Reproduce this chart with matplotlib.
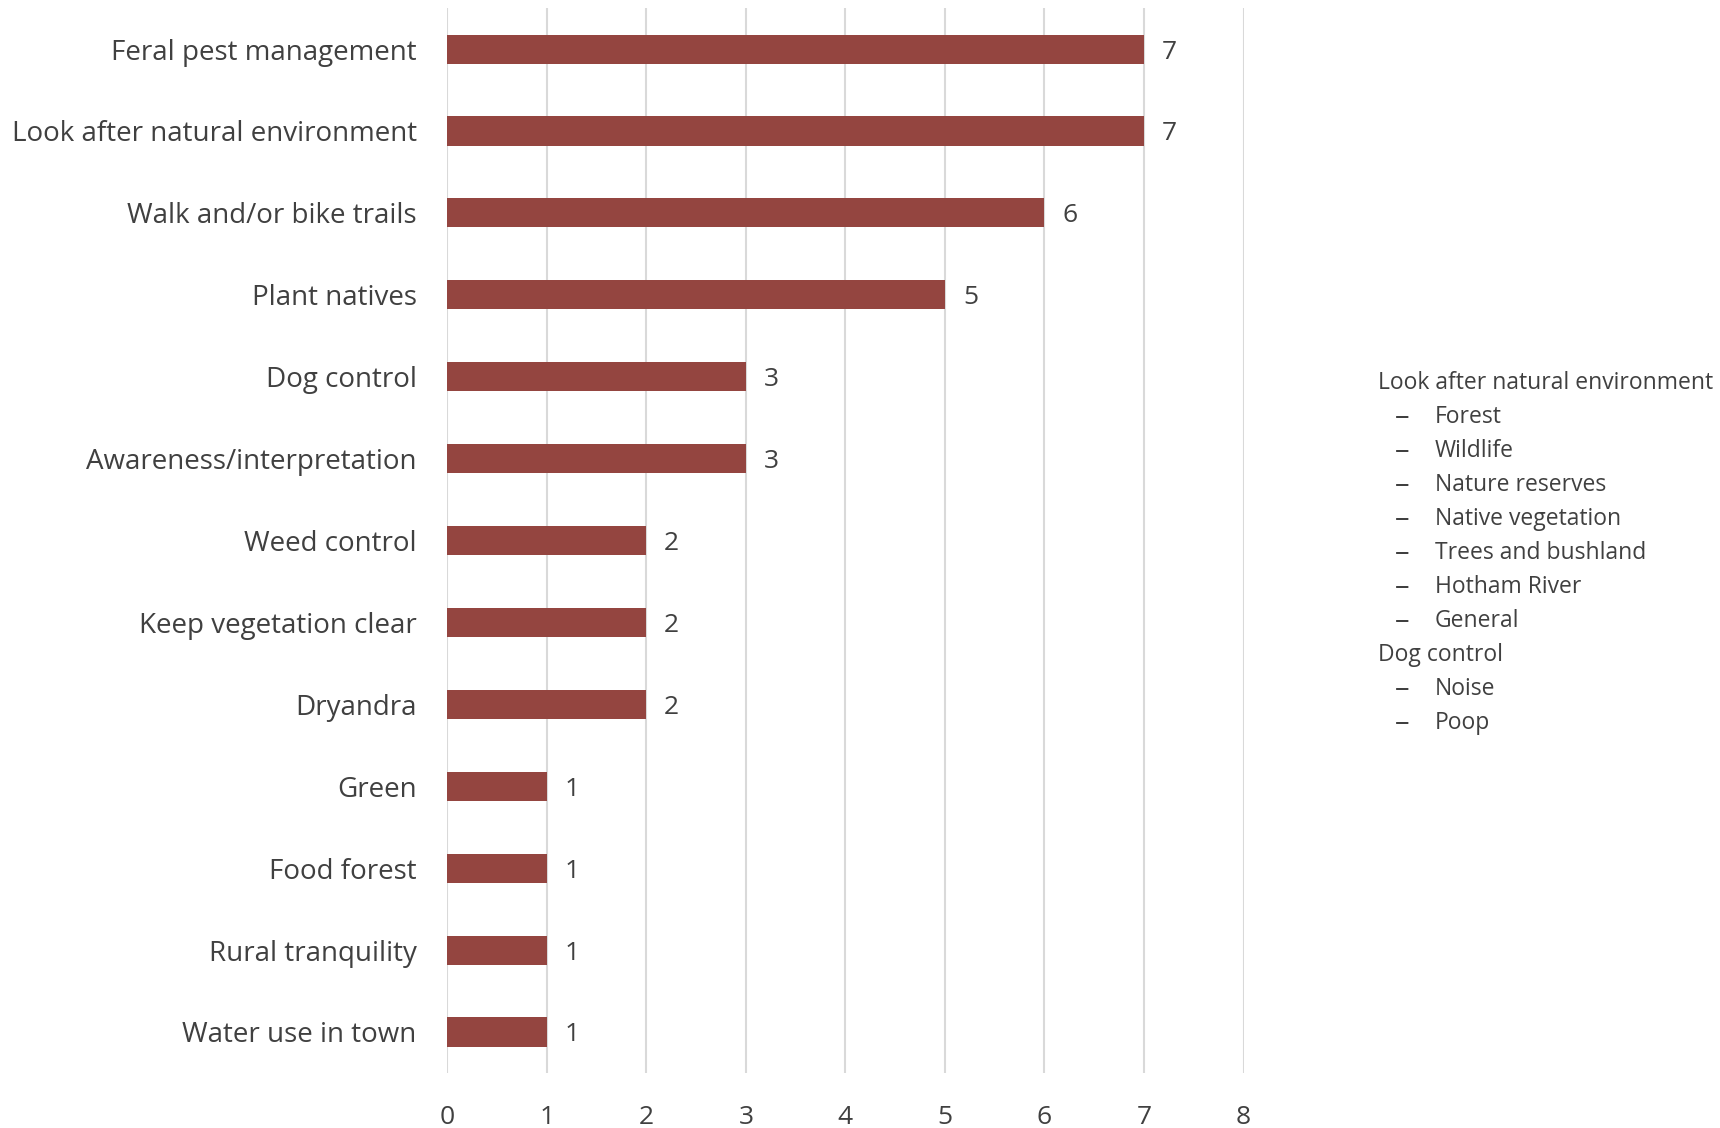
import matplotlib.pyplot as plt

plt.rcParams['font.family'] = ['Open Sans', 'DejaVu Sans']

categories = ['Feral pest management', 'Look after natural environment',
              'Walk and/or bike trails', 'Plant natives', 'Dog control',
              'Awareness/interpretation', 'Weed control', 'Keep vegetation clear',
              'Dryandra', 'Green', 'Food forest', 'Rural tranquility',
              'Water use in town']
counts = [7, 7, 6, 5, 3, 3, 2, 2, 2, 1, 1, 1, 1]

notes = [('Look after natural environment', ['Forest', 'Wildlife', 'Nature reserves',
                                             'Native vegetation', 'Trees and bushland',
                                             'Hotham River', 'General']),
         ('Dog control', ['Noise', 'Poop'])]

text_col = '#404040'
bar_col = '#944540'

fig = plt.figure(figsize=(17.2, 11.28), dpi=100)
ax = fig.add_axes([0.260, 0.0488, 0.463, 0.944])

ypos = list(range(len(categories)))[::-1]
ax.barh(ypos, counts, height=0.355, color=bar_col, zorder=3)
for y, v in zip(ypos, counts):
    ax.text(v + 0.18, y, str(v), va='center_baseline', ha='left', fontsize=19,
            color=text_col)

ax.set_xlim(0, 8)
ax.set_ylim(-0.5, len(categories) - 0.5)
ax.set_xticks(range(9))
ax.set_yticks(ypos)
ax.set_yticklabels(categories)
ax.grid(axis='x', color='#d9d9d9', linewidth=1.5, zorder=0)
for s in ax.spines.values():
    s.set_visible(False)
ax.tick_params(axis='y', length=0, pad=22, labelsize=20, labelcolor=text_col)
ax.tick_params(axis='x', length=0, pad=23, labelsize=19, labelcolor=text_col)

# notes listed at the right
y = 1 - 380 / 1128
step = 34 / 1128
for head, items in notes:
    fig.text(1378 / 1720, y, head, fontsize=16.5, color=text_col, va='center_baseline')
    y -= step
    for it in items:
        fig.text(1395 / 1720, y, '–', fontsize=21, color=text_col, va='center_baseline')
        fig.text(1435 / 1720, y, it, fontsize=16.5, color=text_col, va='center_baseline')
        y -= step

fig.savefig('out.png', dpi=100)
